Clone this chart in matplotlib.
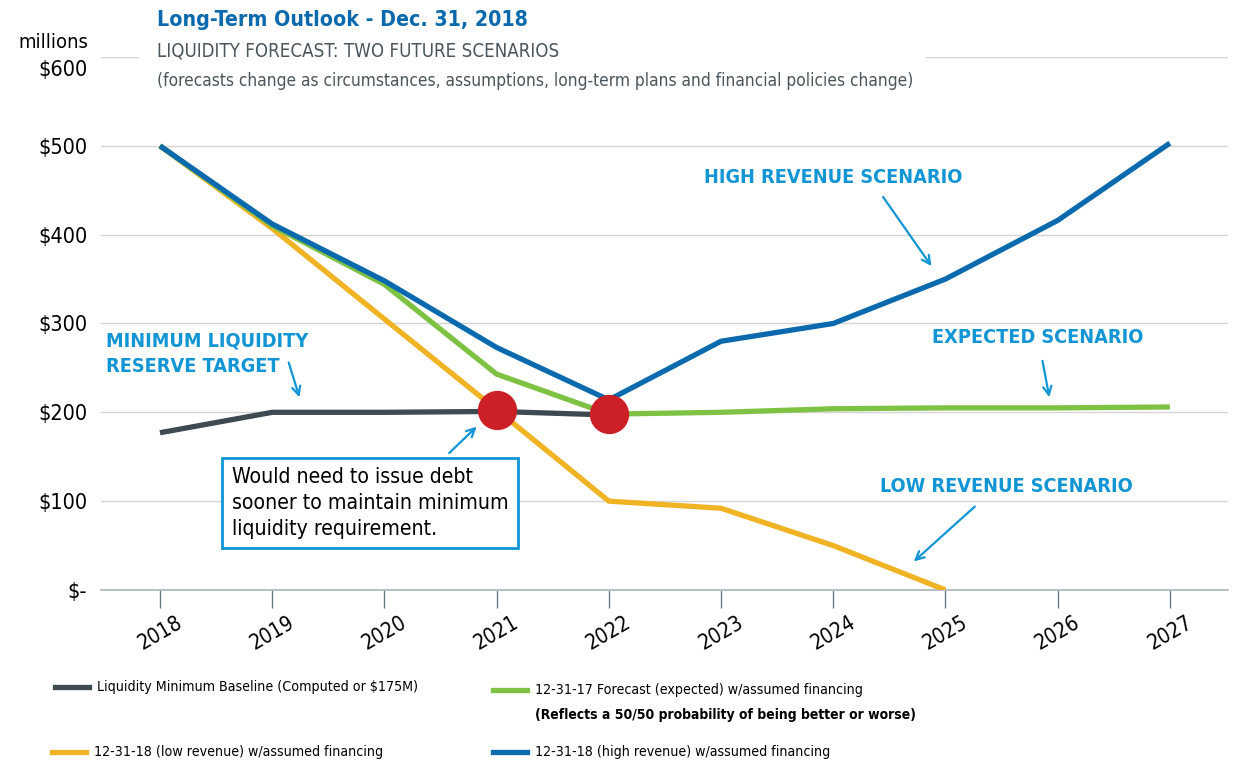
import matplotlib.pyplot as plt
from matplotlib.lines import Line2D
from matplotlib.patches import Rectangle

# the original uses a condensed face, use the condensed DejaVu
plt.rcParams['font.family'] = ['DejaVu Sans']
plt.rcParams['font.stretch'] = 'condensed'

years = [2018, 2019, 2020, 2021, 2022, 2023, 2024, 2025, 2026, 2027]
baseline = [177, 200, 200, 201, 197]
expected = [500, 410, 344, 243, 198, 200, 204, 205, 205, 206]
low_rev = [500, 407, 305, 203, 100, 92, 50, 0]
high_rev = [500, 412, 348, 273, 214, 280, 300, 350, 416, 503]
y_ticks = [0, 100, 200, 300, 400, 500, 600]
y_labels = ['$-', '$100', '$200', '$300', '$400', '$500', '']
crossings_x = [2021, 2022]
crossings_y = [203, 198]

c_gray = '#3d4a52'
c_green = '#7dc242'
c_yellow = '#f0b323'
c_blue = '#0a6aad'
c_red = '#cc1f26'
c_note = '#1195d4'

fig = plt.figure(figsize=(12.4, 7.68), dpi=100)
ax = fig.add_axes([0.0815, 0.2318, 0.909, 0.694])

lw = 3.8
ax.plot(years[:len(baseline)], baseline, color=c_gray, lw=lw, solid_capstyle='butt', zorder=3)
ax.plot(years, expected, color=c_green, lw=lw, solid_capstyle='butt', zorder=4)
ax.plot(years[:len(low_rev)], low_rev, color=c_yellow, lw=lw, solid_capstyle='butt', zorder=3)
ax.plot(years, high_rev, color=c_blue, lw=lw, solid_capstyle='butt', zorder=5)
ax.scatter(crossings_x, crossings_y, s=800, color=c_red, zorder=6, linewidths=0)

ax.set_xlim(2017.475, 2027.52)
ax.set_ylim(0, 600)
ax.set_yticks(y_ticks)
ax.set_yticklabels(y_labels, fontsize=15.5)
ax.set_xticks(years)
ax.set_xticklabels([str(y) for y in years], fontsize=15, rotation=30)
ax.tick_params(axis='y', length=0, pad=10)
ax.tick_params(axis='x', length=13, width=1, color='#6b7b85', pad=3)
ax.grid(axis='y', color='#d4d4d4', lw=1)
ax.set_axisbelow(True)
for s in ['top', 'right', 'left']:
    ax.spines[s].set_visible(False)
ax.spines['bottom'].set_color('#a9b4ba')
ax.spines['bottom'].set_linewidth(1.2)

# white block behind the heading hides the top gridline
fig.add_artist(Rectangle((0.112, 0.88), 0.635, 0.12, transform=fig.transFigure,
                         facecolor='white', edgecolor='none'))

# header
fig.text(0.071, 0.945, 'millions', fontsize=14.5, ha='right', va='center')
fig.text(0.0705, 0.909, '$600', fontsize=15.5, ha='right', va='center')
fig.text(0.1266, 0.974, 'Long-Term Outlook - Dec. 31, 2018', fontsize=15.3, fontweight='bold',
         color=c_blue, ha='left', va='center')
fig.text(0.1266, 0.934, 'LIQUIDITY FORECAST: TWO FUTURE SCENARIOS', fontsize=13.4,
         color='#4a555c', ha='left', va='center')
fig.text(0.1266, 0.895, '(forecasts change as circumstances, assumptions, long-term plans and financial policies change)',
         fontsize=12.4, color='#4a555c', ha='left', va='center')

# callouts
arrow = dict(arrowstyle='->', color=c_note, lw=1.6, mutation_scale=15)
note = dict(fontsize=14.2, fontweight='bold', color=c_note, va='center')
ax.text(2024.0, 464, 'HIGH REVENUE SCENARIO', ha='center', **note)
ax.annotate('', xy=(2024.89, 362), xytext=(2024.43, 445), arrowprops=arrow)
ax.text(2025.82, 284, 'EXPECTED SCENARIO', ha='center', **note)
ax.annotate('', xy=(2025.93, 214), xytext=(2025.86, 261), arrowprops=arrow)
ax.text(2025.54, 116, 'LOW REVENUE SCENARIO', ha='center', **note)
ax.annotate('', xy=(2024.70, 30), xytext=(2025.28, 96), arrowprops=arrow)
ax.text(2017.52, 266, 'MINIMUM LIQUIDITY\nRESERVE TARGET', ha='left', linespacing=1.45, **note)
ax.annotate('', xy=(2019.25, 214), xytext=(2019.14, 259), arrowprops=arrow)
ax.annotate('', xy=(2020.84, 186), xytext=(2020.56, 152), arrowprops=arrow)
ax.text(2018.64, 98, 'Would need to issue debt\nsooner to maintain minimum\nliquidity requirement.',
        fontsize=15.2, color='black', ha='left', va='center', linespacing=1.35,
        bbox=dict(facecolor='white', edgecolor=c_note, lw=2, boxstyle='square,pad=0.45'), zorder=7)

# legend drawn by hand
def legend_entry(x, y, color, text):
    fig.add_artist(Line2D([x, x + 0.027], [y, y], color=color, lw=lw, transform=fig.transFigure))
    fig.text(x + 0.034, y, text, fontsize=10.2, ha='left', va='center')

legend_entry(0.0444, 0.106, c_gray, 'Liquidity Minimum Baseline (Computed or $175M)')
legend_entry(0.3976, 0.102, c_green, '12-31-17 Forecast (expected) w/assumed financing')
fig.text(0.4316, 0.069, '(Reflects a 50/50 probability of being better or worse)', fontsize=10,
         fontweight='bold', ha='left', va='center')
legend_entry(0.042, 0.021, c_yellow, '12-31-18 (low revenue) w/assumed financing')
legend_entry(0.3976, 0.021, c_blue, '12-31-18 (high revenue) w/assumed financing')

fig.savefig('out.png', dpi=100)
